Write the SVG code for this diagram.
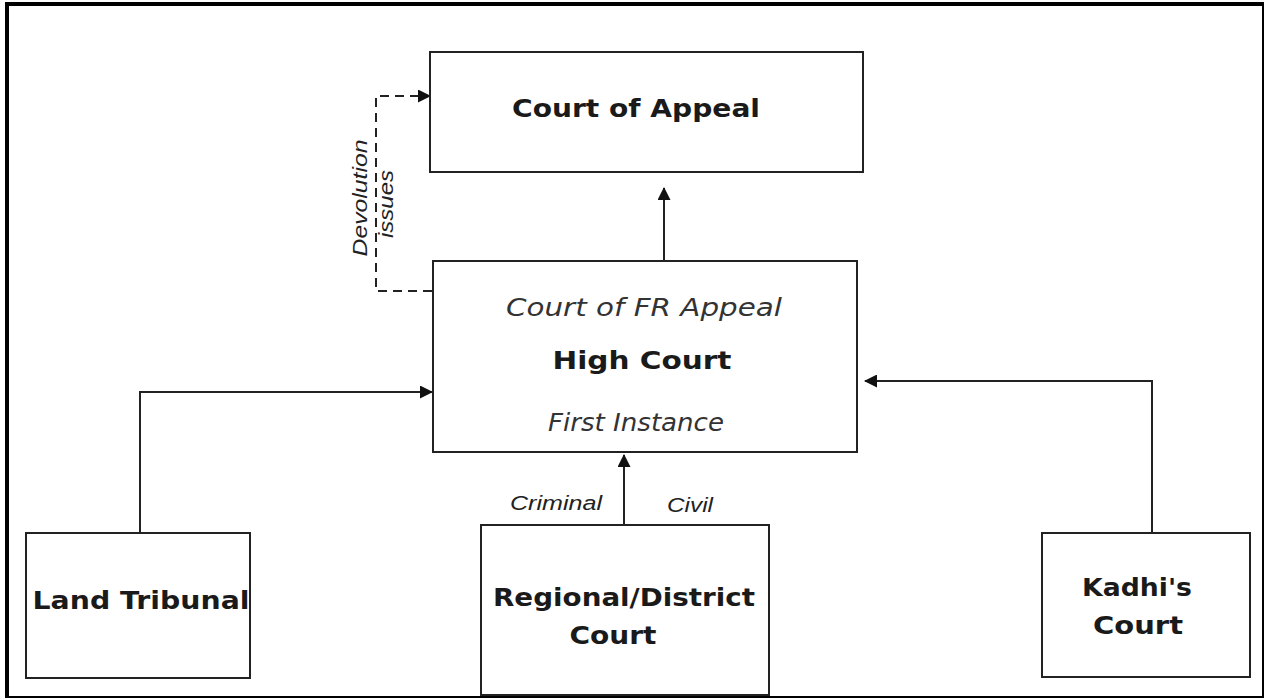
<svg xmlns="http://www.w3.org/2000/svg" width="1268" height="700" viewBox="0 0 1268 700">
<style>
.box{fill:#fff;stroke:#222;stroke-width:2}
.t{font-family:"DejaVu Sans",Verdana,sans-serif;font-weight:bold;fill:#1a1a1a;text-anchor:middle}
.ti{font-family:"DejaVu Sans",Verdana,sans-serif;font-style:italic;fill:#333;text-anchor:middle}
.lab{font-family:"Liberation Sans",Arial,sans-serif;font-style:italic;fill:#222;text-anchor:middle}
.c{fill:none;stroke:#222;stroke-width:2}
.d{fill:none;stroke:#222;stroke-width:2;stroke-dasharray:9,6}
</style>
<defs>
<marker id="ah" markerWidth="13" markerHeight="13" refX="12" refY="6.5" orient="auto" markerUnits="userSpaceOnUse">
<path d="M0,0 L13,6.5 L0,13 Z" fill="#111"/>
</marker>
</defs>
<rect x="0" y="0" width="1268" height="700" fill="#fff"/>
<g id="frame">
<line x1="7" y1="4" x2="1264" y2="4" stroke="#000" stroke-width="4"/>
<line x1="7" y1="2" x2="7" y2="698" stroke="#000" stroke-width="4"/>
<line x1="1263" y1="2" x2="1263" y2="698" stroke="#000" stroke-width="2"/>
<line x1="5" y1="697" x2="1264" y2="697" stroke="#000" stroke-width="2"/>
</g>
<g id="connectors">
<line class="c" x1="664" y1="260" x2="664" y2="188" marker-end="url(#ah)"/>
<polyline class="d" points="432,291 376,291 376,96 430,96" marker-end="url(#ah)"/>
<polyline class="c" points="140,533 140,392 432,392" marker-end="url(#ah)"/>
<polyline class="c" points="1152,533 1152,381 865,381" marker-end="url(#ah)"/>
<line class="c" x1="624" y1="525" x2="624" y2="455" marker-end="url(#ah)"/>
<text class="lab" font-size="21" textLength="117" lengthAdjust="spacingAndGlyphs" transform="translate(367,198) rotate(-90)">Devolution</text>
<text class="lab" font-size="21" textLength="68" lengthAdjust="spacingAndGlyphs" transform="translate(393,204) rotate(-90)">issues</text>
<text class="lab" font-size="20" x="556" y="510" textLength="92" lengthAdjust="spacingAndGlyphs">Criminal</text>
<text class="lab" font-size="20" x="690" y="512" textLength="46" lengthAdjust="spacingAndGlyphs">Civil</text>
</g>
<g id="court-of-appeal">
<rect class="box" x="430" y="52" width="433" height="120"/>
<text class="t" font-size="24" x="636" y="117" textLength="248" lengthAdjust="spacingAndGlyphs">Court of Appeal</text>
</g>
<g id="high-court">
<rect class="box" x="433" y="261" width="424" height="191"/>
<text class="ti" font-size="25" x="644" y="316" textLength="276" lengthAdjust="spacingAndGlyphs">Court of FR Appeal</text>
<text class="t" font-size="25" x="642" y="369" textLength="179" lengthAdjust="spacingAndGlyphs">High Court</text>
<text class="ti" font-size="25" x="636" y="431" textLength="176" lengthAdjust="spacingAndGlyphs">First Instance</text>
</g>
<g id="land-tribunal">
<rect class="box" x="26" y="533" width="224" height="145"/>
<text class="t" font-size="25" x="141" y="609" textLength="217" lengthAdjust="spacingAndGlyphs">Land Tribunal</text>
</g>
<g id="regional-district-court">
<rect class="box" x="481" y="525" width="288" height="170"/>
<text class="t" font-size="25" x="624" y="606" textLength="262" lengthAdjust="spacingAndGlyphs">Regional/District</text>
<text class="t" font-size="25" x="613" y="644" textLength="87" lengthAdjust="spacingAndGlyphs">Court</text>
</g>
<g id="kadhis-court">
<rect class="box" x="1042" y="533" width="208" height="144"/>
<text class="t" font-size="25" x="1137" y="596" textLength="110" lengthAdjust="spacingAndGlyphs">Kadhi's</text>
<text class="t" font-size="25" x="1138" y="634" textLength="90" lengthAdjust="spacingAndGlyphs">Court</text>
</g>
</svg>
